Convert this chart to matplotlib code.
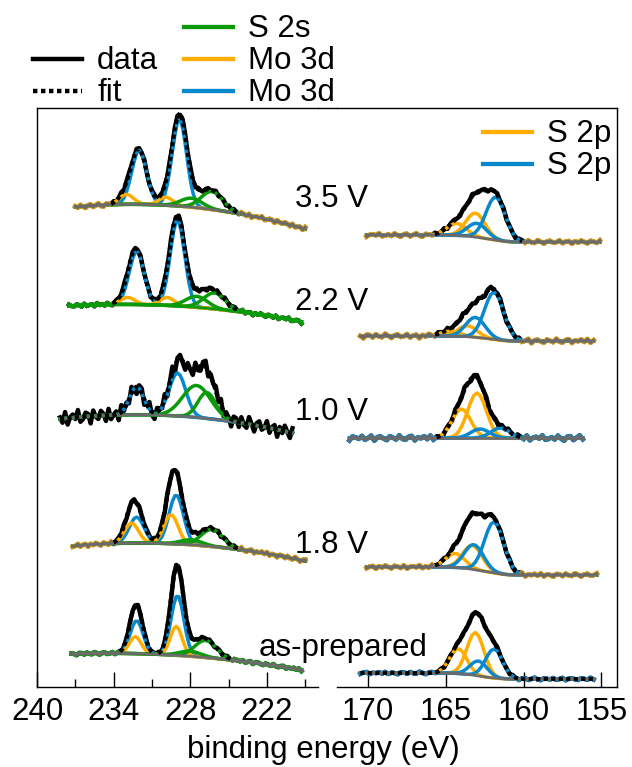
import numpy as np
import matplotlib.pyplot as plt
from matplotlib.lines import Line2D

plt.rcParams['font.family'] = ['Liberation Sans', 'DejaVu Sans']
plt.rcParams['font.size'] = 22.5

GREEN = '#0a9a0a'
ORANGE = '#ffad00'
BLUE = '#0a88cc'
GRAY = '#6b6b6b'
COL = {'g': GREEN, 'o': ORANGE, 'b': BLUE}

W, H = 632, 767

labels = ['3.5 V', '2.2 V', '1.0 V', '1.8 V', 'as-prepared']

# small wiggle read by eye off the flat tails, reused for every trace
wiggle = [0.3, -0.5, 0.8, -0.2, -0.9, 0.4, 0.6, -0.7, 0.1, 0.9, -0.4, -0.8, 0.5, 0.2, -0.3,
          0.7, -0.6, 0.0, 0.8, -0.9, 0.3, 0.5, -0.2, -0.7, 0.6, 0.1, -0.5, 0.9, -0.3, -0.6,
          0.4, 0.7, -0.8, 0.2, -0.1, 0.6, -0.4, 0.8, -0.7, 0.3, 0.0, -0.9, 0.5, 0.4, -0.6,
          0.7, -0.2, -0.5, 0.9, 0.1, -0.8, 0.3, 0.6, -0.4, -0.1, 0.8, -0.6, 0.2, 0.5, -0.9,
          0.4, -0.3, 0.7, 0.0, -0.7, 0.6, 0.2, -0.5, 0.8, -0.8, 0.1, 0.4, -0.2, 0.9, -0.6,
          -0.3, 0.5, 0.3, -0.9, 0.7, -0.1, -0.4, 0.6, 0.2, -0.7, 0.8, -0.5, 0.0, 0.4, -0.8,
          0.9, -0.2, 0.3, -0.6, 0.5, 0.1, -0.4, 0.7, -0.9, 0.2]

# ---- left panel: Mo 3d / S 2s ----
mo_range = [(237.0, 219.0), (237.5, 219.2), (238.2, 220.0), (237.2, 219.0), (237.3, 219.3)]
# background read at three energies (eV, offset height)
mo_bg = [[(237.0, 480), (229.0, 481), (219.0, 458)],
         [(237.5, 381), (229.0, 381), (219.2, 365)],
         [(238.2, 268), (229.0, 271), (220.0, 254)],
         [(237.2, 141), (229.0, 143), (219.0, 126)],
         [(237.3, 33), (229.5, 32), (219.3, 17)]]
# peaks: (centre eV, height, sigma eV, colour)
mo_peaks = [[(232.0, 54, 0.58, 'b'), (228.85, 87, 0.56, 'b'), (233.0, 10, 0.55, 'o'),
             (229.9, 8, 0.55, 'o'), (227.9, 9, 0.85, 'g'), (226.3, 18, 0.85, 'g')],
            [(232.2, 53, 0.58, 'b'), (229.0, 86, 0.56, 'b'), (232.9, 7, 0.55, 'o'),
             (229.8, 8, 0.55, 'o'), (227.5, 11, 0.85, 'g'), (226.1, 16, 0.85, 'g')],
            [(232.2, 28, 0.55, 'b'), (229.0, 43, 0.65, 'b'), (227.5, 32, 1.1, 'g'),
             (226.7, 26, 0.7, 'g')],
            [(232.2, 26, 0.58, 'b'), (232.6, 20, 0.55, 'o'), (229.1, 49, 0.56, 'b'),
             (229.5, 29, 0.55, 'o'), (227.9, 5, 0.85, 'g'), (226.3, 17, 0.85, 'g')],
            [(232.2, 33, 0.5, 'b'), (232.3, 17, 0.46, 'o'), (229.0, 60, 0.5, 'b'),
             (229.1, 29, 0.46, 'o'), (228.0, 5, 0.85, 'g'), (226.8, 17, 0.85, 'g')]]
mo_noise = [2.0, 2.0, 8.0, 2.0, 1.5]
mo_tail = [(GRAY, ORANGE), (GREEN, None), (None, None), (GRAY, ORANGE), (GRAY, GREEN)]
mo_bgcol = [GRAY, GREEN, GRAY, GRAY, GRAY]
mo_fitall = [False, False, True, False, False]

# ---- right panel: S 2p ----
s_range = [(170.1, 155.1), (170.5, 155.4), (171.2, 156.2), (170.1, 155.2), (170.5, 155.4)]
s_bg = [(452, 445), (351, 346), (249, 249), (120, 112), (14, 8)]  # (high BE side, low BE side)
s_peaks = [[(164.3, 12, 0.62, 'o'), (163.1, 24, 0.62, 'o'), (163.0, 14, 0.62, 'b'), (161.8, 43, 0.62, 'b')],
           [(164.7, 5, 0.62, 'o'), (163.6, 11, 0.62, 'o'), (163.1, 20, 0.62, 'b'), (161.9, 47, 0.62, 'b')],
           [(164.0, 29, 0.6, 'o'), (163.0, 45, 0.6, 'o'), (162.8, 9, 0.6, 'b'), (161.5, 10, 0.6, 'b')],
           [(164.4, 14, 0.62, 'o'), (163.3, 24, 0.62, 'o'), (163.2, 25, 0.62, 'b'), (161.9, 51, 0.62, 'b')],
           [(164.2, 25, 0.55, 'o'), (163.1, 43, 0.55, 'o'), (162.9, 15, 0.55, 'b'), (161.9, 29, 0.55, 'b')]]
s_noise = [2.0, 2.5, 3.0, 2.0, 1.5]
s_tail = [(GRAY, ORANGE), (GRAY, ORANGE), (GRAY, BLUE), (GRAY, ORANGE), (BLUE, None)]
s_fitall = [False, False, False, False, True]


def gauss(e, c, h, s):
    return h * np.exp(-0.5 * ((e - c) / s) ** 2)


def draw(ax, e, bg, peaks, noise, shift, tail, bgcol, fitall):
    comps = [gauss(e, c, h, s) for c, h, s, _ in peaks]
    total = np.sum(comps, axis=0)
    fit = bg + total
    wig = np.roll(np.resize(wiggle, len(e)), shift)
    data = fit + noise * wig
    inpeak = total > 0.8

    ax.plot(e, data, color='k', lw=3.2, zorder=1, solid_joinstyle='round')
    for (c, h, s, k), y in zip(peaks, comps):
        ax.plot(e, bg + y, color=COL[k], lw=2.5, zorder=2)
    fg, edge = tail
    tails = np.where(inpeak, np.nan, data)
    if edge is not None:
        ax.plot(e, tails, color=edge, lw=3.4, zorder=3)
    if fg is not None:
        ax.plot(e, tails, color=fg, lw=2.2 if edge else 3.0, zorder=3)
    ax.plot(e, bg, color=bgcol, lw=2.0, zorder=4)
    ax.plot(e, fit if fitall else np.where(inpeak, fit, np.nan), color='k', lw=3.0,
            dashes=(1.0, 0.8), dash_capstyle='butt', zorder=5)


fig = plt.figure(figsize=(W / 100, H / 100), dpi=100)
bot, top = 687, 108
axl = fig.add_axes([37 / W, 1 - bot / H, 281 / W, (bot - top) / H])
axr = fig.add_axes([337 / W, 1 - bot / H, 280 / W, (bot - top) / H])

for i in range(5):
    e = np.arange(mo_range[i][0], mo_range[i][1] - 0.01, -0.2)
    be, bv = zip(*mo_bg[i])
    bg = np.polyval(np.polyfit(be, bv, 2), e)
    draw(axl, e, bg, mo_peaks[i], mo_noise[i], 13 * i, mo_tail[i], mo_bgcol[i], mo_fitall[i])

    e = np.arange(s_range[i][0], s_range[i][1] - 0.01, -0.2)
    tot = np.sum([gauss(e, c, h, s) for c, h, s, _ in s_peaks[i]], axis=0)
    frac = np.cumsum(tot[::-1])[::-1] / tot.sum()   # Shirley-type step
    hi, lo = s_bg[i]
    bg = lo + (hi - lo) * frac
    draw(axr, e, bg, s_peaks[i], s_noise[i], 29 * i + 7, s_tail[i], GRAY, s_fitall[i])

for ax in (axl, axr):
    ax.set_ylim(0, bot - top)
    ax.set_yticks([])
    ax.tick_params(axis='x', direction='in', length=11, width=1.0, pad=7, labelsize=22.5)
    ax.tick_params(axis='x', which='minor', direction='in', length=6, width=1.0)
    for sp in ax.spines.values():
        sp.set_linewidth(1.0)

axl.set_xlim(240, 218)
axl.set_xticks([240, 234, 228, 222])
axl.set_xticks([237, 231, 225, 219], minor=True)
axl.spines['right'].set_visible(False)

axr.set_xlim(172, 154)
axr.set_xticks([170, 165, 160, 155])
axr.spines['left'].set_visible(False)

# top frame line bridging the gap between the panels
fig.add_artist(Line2D([318 / W, 337 / W], [1 - top / H, 1 - top / H], color='k', lw=1.0))

fig.text(323 / W, 1 - 758 / H, 'binding energy (eV)', ha='center', va='baseline')

label_pos = [(295, 207), (295, 310), (295, 420), (295, 553)]
for (x, y), t in zip(label_pos, labels[:4]):
    fig.text(x / W, 1 - y / H, t, ha='left', va='baseline')
fig.text(428 / W, 1 - 656 / H, labels[4], ha='right', va='baseline')


# legends drawn by hand so the rows sit where the original has them
def legend_row(x0, x1, y, text, **kw):
    fig.add_artist(Line2D([x0 / W, x1 / W], [1 - y / H, 1 - y / H], **kw))
    fig.text((x1 + 15) / W, 1 - (y + 10) / H, text, ha='left', va='baseline')


legend_row(33, 82, 59, 'data', color='k', lw=3.2)
legend_row(33, 82, 91, 'fit', color='k', lw=3.2, dashes=(1.0, 0.8), dash_capstyle='butt')
legend_row(184, 233, 27, 'S 2s', color=GREEN, lw=3.1)
legend_row(184, 233, 59, 'Mo 3d', color=ORANGE, lw=3.1)
legend_row(184, 233, 91, 'Mo 3d', color=BLUE, lw=3.1)
legend_row(483, 532, 132, 'S 2p', color=ORANGE, lw=3.1)
legend_row(483, 532, 164, 'S 2p', color=BLUE, lw=3.1)

fig.savefig('out.png', dpi=100)
